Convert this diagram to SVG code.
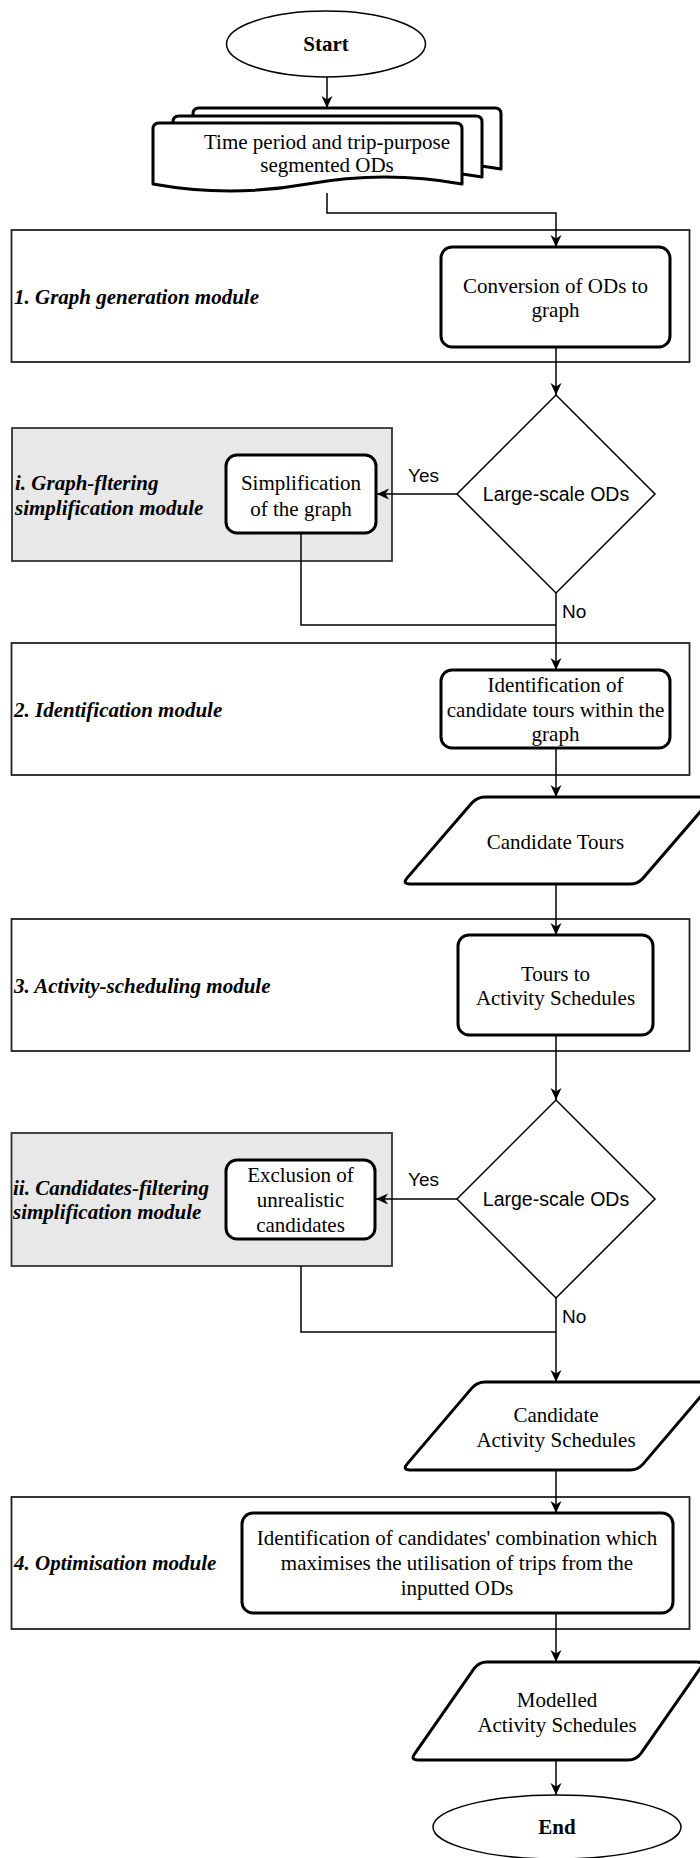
<svg xmlns="http://www.w3.org/2000/svg" width="700" height="1858" viewBox="0 0 700 1858">
<defs>
<marker id="arr" viewBox="0 0 12 12" refX="12" refY="6" markerWidth="12" markerHeight="12" markerUnits="userSpaceOnUse" orient="auto">
<path d="M0,0.5 L12,6 L0,11.5 L3.5,6 Z" fill="#000"/>
</marker>
</defs>
<style>
.bg{fill:#fff}
.module{fill:#fff;stroke:#222;stroke-width:1.8}
.grey{fill:#e8e8e8;stroke:#333;stroke-width:1.8}
.proc{fill:#fff;stroke:#000;stroke-width:3}
.io{fill:#fff;stroke:#000;stroke-width:3;stroke-linejoin:round}
.dec{fill:#fff;stroke:#000;stroke-width:1.5}
.term{fill:#fff;stroke:#000;stroke-width:1.5}
.edge{fill:none;stroke:#000;stroke-width:1.5}
.t{font-family:"Liberation Serif","Times New Roman",serif;font-size:21px;fill:#000;text-anchor:middle}
.tb{font-family:"Liberation Serif","Times New Roman",serif;font-size:21px;font-weight:bold;fill:#000;text-anchor:middle}
.lab{font-family:"Liberation Serif","Times New Roman",serif;font-size:21px;font-weight:bold;font-style:italic;fill:#000;text-anchor:start}
.s{font-family:"Liberation Sans",Arial,sans-serif;font-size:19.5px;fill:#000;text-anchor:middle}
.sl{font-family:"Liberation Sans",Arial,sans-serif;font-size:19px;fill:#000;text-anchor:start}
</style>
<rect class="bg" x="0" y="0" width="700" height="1858"/>

<g id="module1">
<rect class="module" x="11.5" y="230" width="678" height="132"/>
<text class="lab" x="14" y="304">1. Graph generation module</text>
</g>
<g id="moduleI">
<rect class="grey" x="12" y="428" width="380" height="133"/>
<text class="lab" x="15" y="490">i. Graph-fltering</text>
<text class="lab" x="15" y="515">simplification module</text>
</g>
<g id="module2">
<rect class="module" x="11.5" y="643" width="678" height="132"/>
<text class="lab" x="14" y="717">2. Identification module</text>
</g>
<g id="module3">
<rect class="module" x="11.5" y="919" width="678" height="132"/>
<text class="lab" x="14" y="993">3. Activity-scheduling module</text>
</g>
<g id="moduleII">
<rect class="grey" x="11.5" y="1133" width="380.5" height="133"/>
<text class="lab" x="13" y="1195">ii. Candidates-filtering</text>
<text class="lab" x="13" y="1219">simplification module</text>
</g>
<g id="module4">
<rect class="module" x="11.5" y="1497" width="678" height="132"/>
<text class="lab" x="14" y="1570">4. Optimisation module</text>
</g>

<g id="connectors">
<path class="edge" d="M327,77 V108" marker-end="url(#arr)"/>
<path class="edge" d="M327,193 V213 H556 V247" marker-end="url(#arr)"/>
<path class="edge" d="M556,347 V395" marker-end="url(#arr)"/>
<path class="edge" d="M457,494 H377" marker-end="url(#arr)"/>
<path class="edge" d="M301,533 V625 H556"/>
<path class="edge" d="M556,593 V670" marker-end="url(#arr)"/>
<path class="edge" d="M556,748 V797" marker-end="url(#arr)"/>
<path class="edge" d="M556,884 V935" marker-end="url(#arr)"/>
<path class="edge" d="M556,1035 V1100" marker-end="url(#arr)"/>
<path class="edge" d="M457,1199 H376" marker-end="url(#arr)"/>
<path class="edge" d="M301,1266 V1332 H556"/>
<path class="edge" d="M556,1298 V1382" marker-end="url(#arr)"/>
<path class="edge" d="M556,1470 V1513" marker-end="url(#arr)"/>
<path class="edge" d="M556,1613 V1662" marker-end="url(#arr)"/>
<path class="edge" d="M556,1760 V1795" marker-end="url(#arr)"/>
<text class="sl" x="408" y="482">Yes</text>
<text class="sl" x="562" y="618">No</text>
<text class="sl" x="408" y="1186">Yes</text>
<text class="sl" x="562" y="1323">No</text>
</g>

<g id="start">
<ellipse class="term" cx="326" cy="44" rx="99.5" ry="33"/>
<text class="tb" x="326" y="51">Start</text>
</g>

<g id="ods">
<path class="io" d="M193,114 Q193,108 199,108 H495 Q501,108 501,114 V169 Q424,155 347,169 Q270,183 193,169 Z"/>
<path class="io" d="M173,122 Q173,116 179,116 H476 Q482,116 482,122 V177 Q405,163 327.5,177 Q250,191 173,177 Z"/>
<path class="io" d="M153,129 Q153,123 159,123 H456 Q462,123 462,129 V184 Q385,170 307.5,184 Q230,198 153,184 Z"/>
<text class="t" x="327" y="149">Time period and trip-purpose</text>
<text class="t" x="327" y="172">segmented ODs</text>
</g>

<g id="conversion">
<rect class="proc" x="441" y="247" width="229" height="100" rx="11"/>
<text class="t" x="555.5" y="293">Conversion of ODs to</text>
<text class="t" x="555.5" y="317">graph</text>
</g>

<g id="decision1">
<polygon class="dec" points="556,395 655,494 556,593 457,494"/>
<text class="s" x="556" y="501">Large-scale ODs</text>
</g>

<g id="simplification">
<rect class="proc" x="226" y="455" width="150" height="78" rx="11"/>
<text class="t" x="301" y="490">Simplification</text>
<text class="t" x="301" y="516">of the graph</text>
</g>

<g id="identification">
<rect class="proc" x="441" y="670" width="229" height="78" rx="11"/>
<text class="t" x="555.5" y="692">Identification of</text>
<text class="t" x="555.5" y="717">candidate tours within the</text>
<text class="t" x="555.5" y="741">graph</text>
</g>

<g id="candidateTours">
<path class="io" d="M485,797 H705 Q713,797 707.8,803.1 L643.2,877.9 Q638,884 630,884 H410 Q402,884 407.2,877.9 L471.8,803.1 Q477,797 485,797 Z"/>
<text class="t" x="555.5" y="849">Candidate Tours</text>
</g>

<g id="tours">
<rect class="proc" x="458" y="935" width="195" height="100" rx="11"/>
<text class="t" x="555.5" y="981">Tours to</text>
<text class="t" x="555.5" y="1005">Activity Schedules</text>
</g>

<g id="decision2">
<polygon class="dec" points="556,1100 655,1199 556,1298 457,1199"/>
<text class="s" x="556" y="1206">Large-scale ODs</text>
</g>

<g id="exclusion">
<rect class="proc" x="226" y="1160" width="149" height="79" rx="11"/>
<text class="t" x="300.5" y="1182">Exclusion of</text>
<text class="t" x="300.5" y="1207">unrealistic</text>
<text class="t" x="300.5" y="1232">candidates</text>
</g>

<g id="candidateSchedules">
<path class="io" d="M485,1382 H705 Q713,1382 707.8,1388.1 L643.2,1463.9 Q638,1470 630,1470 H410 Q402,1470 407.2,1463.9 L471.8,1388.1 Q477,1382 485,1382 Z"/>
<text class="t" x="556" y="1422">Candidate</text>
<text class="t" x="556" y="1447">Activity Schedules</text>
</g>

<g id="optimisation">
<rect class="proc" x="242" y="1513" width="431" height="100" rx="11"/>
<text class="t" x="457" y="1545">Identification of candidates' combination which</text>
<text class="t" x="457" y="1570">maximises the utilisation of trips from the</text>
<text class="t" x="457" y="1595">inputted ODs</text>
</g>

<g id="modelledSchedules">
<path class="io" d="M487,1662 H697 Q705,1662 700.2,1668.4 L640.8,1753.6 Q636,1760 628,1760 H418 Q410,1760 414.8,1753.6 L474.2,1668.4 Q479,1662 487,1662 Z"/>
<text class="t" x="557" y="1707">Modelled</text>
<text class="t" x="557" y="1732">Activity Schedules</text>
</g>

<g id="end">
<ellipse class="term" cx="557" cy="1827" rx="124" ry="32"/>
<text class="tb" x="557" y="1834">End</text>
</g>
</svg>
